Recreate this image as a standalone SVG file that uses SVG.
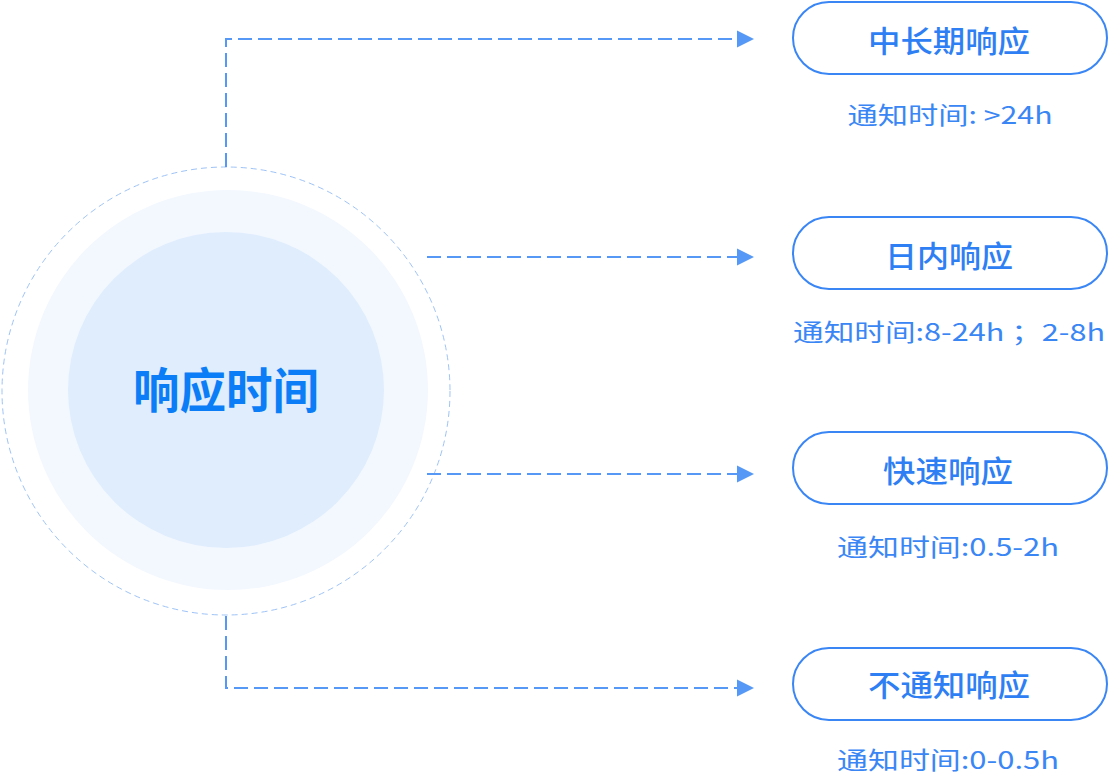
<svg xmlns="http://www.w3.org/2000/svg" width="1112" height="782" viewBox="0 0 1112 782">
<defs>
<style>
.conn{fill:none;stroke:#5598f6;stroke-width:2;stroke-dasharray:14 6}
.arrow{fill:#5598f6}
.pill{fill:#fff;stroke:#3a86f5;stroke-width:2}
.lbl{font-family:"PingFang SC","Noto Sans CJK SC",sans-serif;font-size:30px;font-weight:500;fill:#2f7ff4;text-anchor:middle}
.sub{font-family:"PingFang SC","Noto Sans CJK SC",sans-serif;font-size:24px;font-weight:400;fill:#3a86f5;text-anchor:middle}
</style>
</defs>
<rect width="1112" height="782" fill="#fff"/>
<g id="center">
<circle cx="226" cy="391" r="224" fill="none" stroke="#9ec3f7" stroke-width="1" stroke-dasharray="6 4"/>
<circle cx="228" cy="390" r="200" fill="#f3f8ff"/>
<circle cx="226" cy="390" r="158" fill="#e0edfd"/>
<text x="226" y="408" font-family="'PingFang SC','Noto Sans CJK SC',sans-serif" font-size="48" font-weight="700" fill="#0b7df6" text-anchor="middle" textLength="186" lengthAdjust="spacingAndGlyphs">响应时间</text>
</g>
<g id="connectors">
<path class="conn" d="M226,167 V39 H738"/>
<polygon class="arrow" points="737,30.5 754,39 737,47.5"/>
<path class="conn" d="M427,257 H738"/>
<polygon class="arrow" points="737,248.5 754,257 737,265.5"/>
<path class="conn" d="M427,474 H738"/>
<polygon class="arrow" points="737,465.5 754,474 737,482.5"/>
<path class="conn" d="M226,616 V688 H738"/>
<polygon class="arrow" points="737,679.5 754,688 737,696.5"/>
</g>
<g id="node1">
<rect class="pill" x="793" y="2" width="314" height="72" rx="36"/>
<text class="lbl" x="949" y="52" textLength="162" lengthAdjust="spacingAndGlyphs">中长期响应</text>
<text class="sub" x="950" y="124" textLength="205" lengthAdjust="spacingAndGlyphs">通知时间: &gt;24h</text>
</g>
<g id="node2">
<rect class="pill" x="793" y="217" width="314" height="72" rx="36"/>
<text class="lbl" x="949" y="267" textLength="128" lengthAdjust="spacingAndGlyphs">日内响应</text>
<text class="sub" x="949" y="341" textLength="312" lengthAdjust="spacingAndGlyphs">通知时间:8-24h ；2-8h</text>
</g>
<g id="node3">
<rect class="pill" x="793" y="432" width="314" height="72" rx="36"/>
<text class="lbl" x="948" y="482" textLength="130" lengthAdjust="spacingAndGlyphs">快速响应</text>
<text class="sub" x="948" y="556" textLength="222" lengthAdjust="spacingAndGlyphs">通知时间:0.5-2h</text>
</g>
<g id="node4">
<rect class="pill" x="793" y="648" width="314" height="72" rx="36"/>
<text class="lbl" x="949" y="696" textLength="162" lengthAdjust="spacingAndGlyphs">不通知响应</text>
<text class="sub" x="948" y="769" textLength="222" lengthAdjust="spacingAndGlyphs">通知时间:0-0.5h</text>
</g>
</svg>
